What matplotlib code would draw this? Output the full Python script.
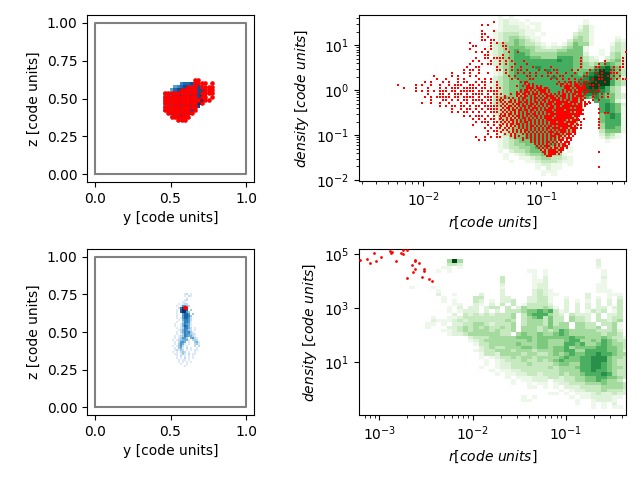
import numpy as np
import matplotlib
matplotlib.use("Agg")
import matplotlib.pyplot as plt
from matplotlib.colors import PowerNorm

# values: each digit is a bin count level, each # a filled cell
top_blue_y0, top_blue_z0, top_cell = 0.43, 0.634, 0.0221
top_blue = [
    "............",
    "......67787.....",
    "....567887787...",
    "...57888888889..",
    ".5778888888889..",
    ".5778888888899..",
    ".5778888888899..",
    ".577888888899...",
    ".57788888888....",
    ".5778888888.....",
    "..57788888......",
    "...577886.......",
    ".....66.........",
]
top_red = [
    "..........##....",
    "..........####.#",
    "........###.####",
    "......#####..###",
    ".##########.####",
    ".##########.##.#",
    ".###########.##.",
    ".##########.#...",
    ".##########.....",
    ".########.#.....",
    "..########......",
    "...######.......",
    ".....###........",
]

low_blue_y0, low_blue_z0, low_cell = 0.51, 0.7616, 0.01325
low_blue = [
    "......12.1",
    "......1.21",
    ".......1",
    "......12",
    ".....11",
    "...1.122",
    "..1.15532",
    "...26985",
    "..1.7997.3",
    "..1.79953",
    "..1..5775.3",
    "..1..57763",
    "..1.157752",
    "...1.46652",
    "..1..36651",
    ".1..146541",
    ".1..147641",
    "..1.136642.1",
    "...1246532.1",
    "..1.2465631",
    "..1.13655321",
    ".1.123654421",
    ".1.13553.4521",
    "1.1234441.232",
    ".1.2554.1..341",
    ".1.3541.1..231",
    "1.1352.1...2.2",
    ".1.341.2.1..1",
    ".12132.1.1.11",
    "1.1.232.1..1",
    ".11.131.2.11",
    "..1.2.1.1.1",
    "..1.1.2.1.1",
    "...1.11.1.",
    "...1.1.1.1",
    "....1..1",
    "......1",
]
low_red_y = [0.586, 0.594, 0.602, 0.586, 0.594, 0.602]
low_red_z = [0.666, 0.666, 0.666, 0.658, 0.658, 0.658]

hist1_r0, hist1_dr, hist1_d0, hist1_dd = -1.547, 0.0453, 1.663, 0.0746
hist1 = [
    "....1.1",
    "....1211.1..........1",
    "....12111.11........1",
    "....122211.1.......131",
    "...112222111.......231",
    "...12333211.1.....2331",
    "...123443211......3431....1",
    "...123454321.....24431....21",
    "...2344543321.1.135441...132",
    "..1234555443212234551....232",
    "..1234565543333445551..1.232",
    "..1234566544444555552..1.342",
    "...23456665544466655321.2342",
    "..123456666666676655322.3452",
    "...2345666666666665543456542",
    "...1345666676666665544678652",
    "...1245666666766665556798653",
    "...1245666666666666567899653",
    "...2345666666676666678999652",
    "...2345566666666666778999643",
    "..12345566666666666789999643",
    "..1234556666666666678998643",
    "...234556666666666678887643",
    "...2345556666666666677765532",
    "...3455566666666666665765532",
    "...34455666666666665..66652",
    "...34455666666666665...67652",
    "...23455666666666665...67651",
    "...2345566666666665....67651",
    "...2345566666666665....56761",
    "...1344566666666655....56761",
    "....344566666666655....56661",
    "....234566666666654....46661",
    "....234566666666653....46651",
    "....23455666666665.....35551",
    "....1345566666665......2431",
    "....1245566666654......1321",
    "....123455666664........1",
    "....1234455666652",
    "....12334456665521",
    "....1.2334555555.1",
    ".....1.1234455441",
    ".....1..1123443321",
    "......1..112333211",
    "...........12211.1",
    "...........1.211",
    "............111",
    "............1.1",
]

red1_r0, red1_dr, red1_d0, red1_dd = -2.255, 0.0255, 1.558, 0.0674
red1 = [
    ".................................#",
    ".............................#.#",
    "",
    ".............................#...#",
    ".............................##",
    ".............................#.#",
    ".............................##.##",
    ".........................#......#.#.#",
    "..........................##....#...##",
    ".........................#....#.#....#",
    "...........................#.#.#......#..#...................................#",
    "..............................##....#........................................",
    "...........................#..##.####.#.......................#.............#",
    "..........................#.#...#..#.#.#...#..................#.......#.....#",
    ".........................#...#.##..#.#..#...#.................#.....#.#.....#",
    "........................#..##.....#....#..#...#.....#.........#....##....#.##",
    ".......................#.##.#.....##.#.#.##.#...#.#..##....#.#...#.#.#..##.#",
    "...................#...#.#..#..#.....#...#.#.#.#...##.#..#..#...#..#.#..###",
    ".............#.....#.#...#.#..........#.#...##.#.#.#.#.##..#...##...##.#.#.#",
    "..............#..#...#.#....#.#.#......#.#...##.....#.#.#.#.#.#...#.##..#.#.##",
    "..........#.#...#.#..#.##..#.##.#.#.",
    ".#.....#.#..#..#..#.###..##.#.#...#.",
    "...#...#...#...#.#.###.#####.##.#.##",
    ".......#.#.#.#.###.##.#####.##.####.",
    "...........#...##.#.###.#.####.#.##.",
    "..........#.#.#####.##.####.#.###.#.",
    "............#...##.#.#.##.####.##.##",
    ".........#..#..#..#...#.#.#..##.#.#.",
    "...............#.#.##.##.#.##.#####.",
    "...................#..#.##.#.#.####.",
    "...................#.#.##.#.#.#.###.",
    ".......................#.#.###.#.#.#",
    "..........................#.#.#.##.#",
    "...........................#.###.##.",
    "..........................#....#.#.#",
    "..............................#.#.##",
    "...............................#.##.",
    "...............................#..#.",
    "...........................#..#.#.##",
    "............................#.#.....",
]

red1_core_r0, red1_core_dr, red1_core_d0, red1_core_dd = -1.348, 0.017, 0.21, 0.0449
red1_core = [
    "..........#.##...............#..#.##.#.#..#",
    "............#.#.#...........#.##.#.#.##.#",
    "........#..#.##.#.#.#.........#.####.###.##",
    ".............####.###.##........###.#.#####",
    "..........#.##.#.#.####.#......#.###.#.###.#",
    "........#.#.###.#.#.###.#....#.#.#.#.####.##",
    "#....#..##.##.#.###.#.##.#.#.#.##.#.##.##.#",
    "..#.....#.#.##.#.#.#.#.####.#.###.#.#.####",
    "#.#.#.#..#.##..#.##.#.##.###.#.##.#.###.#.#",
    ".#...#.#.#.#.#.#.#.#.##.#.####.#.##.###.##",
    "#.#.##.#.##.##.#.##.#.#.###.######.####.#.#.#",
    ".#.#..#.##.#.#.##.#.##.###.####.####.#.##.##",
    "#.#.##.#.#.##.##.#.#.#.#.##.##.##########.#",
    ".#.##.#.#.#.#.#.###.#.#.###.#######.#.###",
    "#.#.#.##.##.##.##.#.#.####.#####.#########",
    ".#.#.#.#.#.#.#.#.#.#.#.####.#######.#.###",
    "#.#.##.#.#.#.##.##.#.#.#.#################",
    ".##.#.#.##.#.#.#.##.#.#####.########.###.",
    "#..#.#.#.#.##.#.#.#.#.####.##########.#.",
    ".#.#.##.#.#.#.##.#.#.#.##########.#.####",
    "#.#.#.#.#.#.##.#.#.#.#.#.###.###.#####.",
    ".#.#.##.##.#.#.#.#.#.#.#.#########.##.#",
    "#..#.#.#.#.#.#.##.#.#.#.##.#.#######.#.",
    "..#.#.#..#.#.#.#.#.#.#.##.####.###.####",
    ".#.#..#.#.#.##.#.#.#.#.#.#.#.####.#.##.",
    "#...#.#.#.#.#.#.#.#.#.#.###.#.###.#.##",
    "..#..#.#...#.#.#.#.#.#.#.#.###.#.###.#",
    ".....#.#.#...#.#.#.#.#.#.###.##.#.#.#",
    ".......#...#.#.#.#.#.#.#.#.#.#.#.###",
    "...........#...#.#.#.#.#.#.#.###.#.#",
    "...............#.#.#.#.##.#.#.#.###",
    ".................#.#.#.#.#.#.#.##.#",
    "..................#.#.###..#.#.###",
    "...................#.#.#.#.##.##.#",
    "....................#.#.####.###",
    ".....................##.#####.#",
    "......................#.####.#",
    ".......................###",
]

red1_right_r0, red1_right_d0 = -0.7, 0.2097
red1_right = [
    "..###.#..#..",
    "..#.##.#",
    "..#..#.#",
    "....#.##",
    ".....##.#.#",
    ".....#..#.#",
    ".....#.#",
    "....#",
    "",
    ".......#",
    ".......#.##",
    "#",
    "#.#....#",
    ".#.....#",
    "##.....#",
    ".#.....#",
    "",
    "",
    "",
    "",
    "",
    "",
    "",
    ".......#",
    "",
    "",
    "",
    "",
    ".......#",
]

hist2_r0, hist2_dr, hist2_d0, hist2_dd = -2.678, 0.0572, 5.172, 0.1227
hist2 = [
    "",
    "",
    "",
    ".......494.........................2",
    ".......332.........................2",
    "......11.1.........................1",
    ".....1.1..............11.1..........1",
    ".......................1.1..........1",
    ".................3.....1.2..........2",
    ".................3.....112..........1",
    ".................2.....122.........11",
    "1...1............1.....122.........11",
    ".....1...........2.....2321........111",
    ".....2..1....2...2.....23211.....2...111",
    "......1.....33...22...22331..1...2.1.1.2",
    "......1.1...32.1.223..22331..2.1.1.2.2.3",
    "........11..21.2.3.3.133332..2.2.2.2.2.3",
    ".......1.2.22.233.3.24333431.2.2.2.22.23",
    ".......1.1222.2.2.333455656312.2.1323.13",
    "........2.3232323334.35666432.3222.3.223",
    "....1..1123333333334.34563533.4332.3.233",
    "....2111232333333343.34443533.4332.33234",
    "...11.1.223344323334.344435344.4433.3341",
    "...1...2234343433434.444345444.44334.341",
    "......11234344434334.4443434654444433342",
    ".......122344444433.45445445654444443443",
    "...........233344444555455555565544454331",
    "...........1234444444454554445664454654331",
    "............133444445444554446656445654431",
    ".............234334445545545564555566554331",
    "............12334443444344455664466665542",
    ".............13324444344334545655667665442",
    ".............1.12334344344445655667775443",
    "..............1.1233343343456555667775433",
    "..............1.1223334333345544667765433",
    ".............1..12233333334344456677654433",
    "...............1.112233333334444667665433",
    "................1.11223323334344566676433",
    "..................1.1112223323344556655433",
    "...................1.11222.2233445565443",
    "...................1..1.11.122333444544432",
    "......................11.1.1.22233334444332",
    "............................1.12233343332",
    "..........................11.1.1112322322",
    ".....................1.1......1.11222211",
    ".....................11........1..12221",
    "...............................1..1.1.2",
    "..................................1.1.11",
]

red2_r = [-3.208, -3.129, -3.100, -3.057, -3.036, -2.982, -2.886, -2.868, -2.876,
          -2.821, -2.767, -2.742, -2.707, -2.750, -2.649, -2.617, -2.617, -2.574,
          -2.639, -2.617, -2.521, -2.521, -2.707, -2.542, -2.467, -2.431]
red2_d = [4.78, 4.82, 4.68, 5.05, 4.75, 4.90, 5.11, 5.09, 5.05,
          4.75, 5.05, 4.99, 5.15, 5.15, 4.60, 4.78, 4.75, 4.68,
          4.35, 4.44, 4.44, 4.39, 4.13, 4.17, 4.07, 4.02]


def to_array(rows):
    width = max(len(row) for row in rows)
    out = np.zeros((len(rows), width))
    for j, row in enumerate(rows):
        for i, ch in enumerate(row):
            if ch == "#":
                out[j, i] = 1
            elif ch != ".":
                out[j, i] = int(ch)
    return out


def draw_cells(ax, rows, x0, dx, y0, dy, cmap, gamma, log=False):
    values = to_array(rows)
    xe = x0 + dx * np.arange(values.shape[1] + 1)
    ye = y0 - dy * np.arange(values.shape[0] + 1)
    if log:
        xe, ye = 10.0**xe, 10.0**ye
    ax.pcolormesh(xe, ye, np.ma.masked_equal(values, 0), cmap=cmap,
                  norm=PowerNorm(gamma, vmin=0, vmax=9))


def draw_red(ax, rows, x0, dx, y0, dy, size):
    dd, rr = np.nonzero(to_array(rows))
    ax.scatter(10.0 ** (x0 + dx * (rr + 0.5)), 10.0 ** (y0 - dy * (dd + 0.5)),
               s=size, c="red", marker="s", linewidths=0, zorder=3)


def style_box(ax):
    ax.plot([0, 1, 1, 0, 0], [0, 0, 1, 1, 0], color="gray", lw=1.5)
    ax.set_xlim(-0.05, 1.05)
    ax.set_ylim(-0.05, 1.05)
    ax.set_xticks([0, 0.5, 1])
    ax.set_yticks([0, 0.25, 0.5, 0.75, 1])
    ax.set_xlabel("y [code units]")
    ax.set_ylabel("z [code units]")


def style_log(ax, xlim, ylim):
    ax.set_xscale("log")
    ax.set_yscale("log")
    ax.set_xlim(*xlim)
    ax.set_ylim(*ylim)
    ax.set_xlabel(r"$r [code\ units]$")
    ax.set_ylabel(r"$density\ [code\ units]$")


fig = plt.figure(figsize=(6.4, 4.8), dpi=100)
ax1 = fig.add_axes([87 / 640, 1 - 182 / 480, 167 / 640, 167 / 480])
ax2 = fig.add_axes([359 / 640, 1 - 181 / 480, 267 / 640, 166 / 480])
ax3 = fig.add_axes([87 / 640, 1 - 415 / 480, 167 / 640, 166 / 480])
ax4 = fig.add_axes([359 / 640, 1 - 415 / 480, 267 / 640, 166 / 480])

draw_cells(ax1, top_blue, top_blue_y0, top_cell, top_blue_z0, top_cell, "Blues", 1.0)
zz, yy = np.nonzero(to_array(top_red))
ax1.scatter(top_blue_y0 + top_cell * (yy + 0.5), top_blue_z0 - top_cell * (zz + 0.5),
            s=11, c="red", linewidths=0, zorder=3)
style_box(ax1)

draw_cells(ax3, low_blue, low_blue_y0, low_cell, low_blue_z0, low_cell, "Blues", 0.9)
ax3.scatter(low_red_y, low_red_z, s=4, c="red", linewidths=0, zorder=3)
style_box(ax3)

draw_cells(ax2, hist1, hist1_r0, hist1_dr, hist1_d0, hist1_dd, "Greens", 1.2, log=True)
draw_red(ax2, red1, red1_r0, red1_dr, red1_d0, red1_dd, 3.0)
draw_red(ax2, red1_core, red1_core_r0, red1_core_dr, red1_core_d0, red1_core_dd, 3.0)
draw_red(ax2, red1_right, red1_right_r0, red1_dr, red1_right_d0, red1_dd, 3.0)
style_log(ax2, (2.85e-3, 0.525), (9.5e-3, 47))

draw_cells(ax4, hist2, hist2_r0, hist2_dr, hist2_d0, hist2_dd, "Greens", 1.25, log=True)
ax4.scatter(10.0 ** np.array(red2_r), 10.0 ** np.array(red2_d), s=4, c="red",
            linewidths=0, zorder=3)
style_log(ax4, (6.05e-4, 0.444), (0.112, 1.55e5))

fig.savefig("out.png", dpi=100)
